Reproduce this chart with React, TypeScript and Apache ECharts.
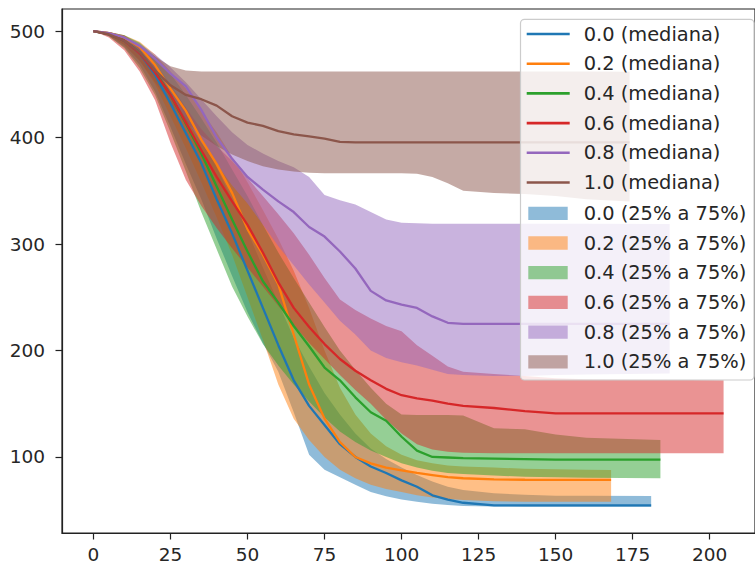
import React, { useEffect, useRef } from 'react';
import * as echarts from 'echarts';

// shared x grid (steps), plus each group's own last step
const xGrid = [0, 5, 10, 15, 20, 25, 30, 35, 40, 45, 50, 55, 60, 65, 70, 75, 80, 85, 90, 95, 100, 105, 110, 115, 120, 130, 140, 150, 160];
const groups = ['0.0', '0.2', '0.4', '0.6', '0.8', '1.0'];
const xEnd = [181, 168, 184, 204.5, 187, 174];
const colors = ['#1f77b4', '#ff7f0e', '#2ca02c', '#d62728', '#9467bd', '#8c564b'];
const bandColors = ['rgba(31,119,180,0.5)', 'rgba(255,127,14,0.5)', 'rgba(44,160,44,0.5)', 'rgba(214,39,40,0.5)', 'rgba(148,103,189,0.5)', 'rgba(140,86,75,0.5)'];

// medians
const med00 = [500, 497, 491, 479, 459, 432, 404, 376, 342, 310, 275, 240, 205, 172, 148, 130, 112, 100, 91, 85, 78, 72, 64, 60, 57, 54.5, 54.5, 54.5, 54.5, 54.5];
const med02 = [500, 498, 494, 485, 468, 446, 425, 398, 375, 348, 314, 290, 262, 215, 168, 136, 114, 100, 94, 90, 87.5, 85, 83, 81, 80, 79, 78.6, 78.4, 78.4, 78.4];
const med04 = [500, 497, 491, 480, 462, 440, 413, 385, 354, 323, 293, 265, 245, 223, 204, 184, 172, 156, 142, 134, 119, 106, 100, 99.5, 99, 98.5, 98, 97.5, 97.5, 97.5];
const med06 = [500, 497, 491, 479, 461, 440, 414, 388, 363, 340, 318, 292, 264, 240, 222, 206, 192, 181, 172, 164, 158, 155, 153, 150, 148, 146, 143, 141, 141, 141];
const med08 = [500, 498, 494, 486, 474, 460, 448, 426, 400, 380, 363, 351, 340, 330, 316, 307, 293, 277, 256, 247, 243, 240, 232, 226, 225, 225, 225, 225, 225, 225];
const med10 = [500, 497, 491, 480, 463, 449, 440, 436, 430, 420, 414, 411, 406, 403, 401, 399, 396, 395.5, 395.5, 395.5, 395.5, 395.5, 395.5, 395.5, 395.5, 395.5, 395.5, 395.5, 395.5, 395.5];

// 25% quantiles
const q25_00 = [500, 495, 485, 468, 443, 410, 375, 342, 305, 270, 236, 207, 180, 142, 102, 88, 81, 74, 67, 63, 60, 58, 56, 55, 54, 53.5, 53.3, 53.3, 53.3, 53.3];
const q25_02 = [500, 496, 487, 472, 450, 420, 390, 358, 325, 290, 250, 210, 168, 136, 116, 100, 88, 80, 74, 70, 67, 64, 62, 60.5, 59.5, 58.5, 58, 58, 58, 58];
const q25_04 = [500, 495, 484, 465, 440, 405, 368, 330, 295, 260, 232, 206, 186, 168, 152, 137, 124, 114, 106, 100, 94, 90, 87, 85, 84, 82.5, 81.5, 81, 80.5, 80];
const q25_06 = [500, 494, 482, 462, 435, 395, 360, 336, 315, 296, 278, 260, 242, 224, 207, 192, 177, 163, 150, 135, 122, 112, 107, 105, 104, 103.5, 103.5, 103.5, 103.5, 103.5];
const q25_08 = [500, 497, 490, 478, 460, 440, 418, 395, 375, 355, 338, 318, 298, 280, 262, 245, 228, 215, 200, 193, 189, 186, 182, 178, 177, 176, 176, 177, 177.5, 178.5];
const q25_10 = [500, 496, 487, 472, 452, 432, 415, 402, 392, 384, 378, 373, 370, 368, 367, 366.5, 366.5, 366.5, 366.5, 366.5, 366.5, 366, 363, 357, 350, 348, 347, 345, 342, 340];

// 75% quantiles
const q75_00 = [500, 499, 495, 486, 470, 450, 428, 400, 372, 342, 312, 278, 245, 212, 185, 160, 140, 122, 108, 98, 90, 83, 77, 72, 69, 66, 64.5, 63.5, 63.5, 63.4];
const q75_02 = [500, 499, 496, 490, 478, 462, 446, 425, 405, 382, 358, 332, 305, 275, 240, 200, 165, 140, 122, 110, 102, 97, 94, 92, 91, 90, 89, 88.5, 88, 87.8];
const q75_04 = [500, 499, 496, 489, 476, 460, 440, 418, 395, 370, 345, 318, 292, 268, 245, 222, 200, 182, 165, 150, 140, 139.5, 139.5, 139.5, 139, 127, 126, 121, 118, 116];
const q75_06 = [500, 499, 494, 484, 468, 448, 428, 408, 392, 378, 362, 345, 328, 310, 290, 268, 248, 238, 230, 223, 218, 205, 195, 185, 180, 178, 176, 174, 173, 172];
const q75_08 = [500, 499, 495, 488, 478, 466, 452, 436, 420, 405, 393, 385, 378, 372, 363, 346, 341, 337, 330, 323, 320, 319.5, 319, 319, 319, 319, 319, 319, 319, 318.8];
const q75_10 = [500, 499, 496, 486, 476, 467, 463, 462, 462, 462, 462, 462, 462, 462, 462, 462, 462, 462, 462, 462, 462, 462, 462, 462, 462, 462, 462, 462, 462, 461.8];

const medians = [med00, med02, med04, med06, med08, med10];
const lows = [q25_00, q25_02, q25_04, q25_06, q25_08, q25_10];
const highs = [q75_00, q75_02, q75_04, q75_06, q75_08, q75_10];

const xTicks = [0, 25, 50, 75, 100, 125, 150, 175, 200];
const yTicks = [100, 200, 300, 400, 500];

const FONT = 'DejaVu Sans';
const TEXT = '#262626';

export default function App() {
  const ref = useRef<HTMLDivElement>(null);

  useEffect(() => {
    document.body.style.margin = '0';
    if (!ref.current) return;
    const chart = echarts.init(ref.current, undefined, { renderer: 'svg' });

    const xsFor = (i: number) => xGrid.concat([xEnd[i]]);

    // one custom series per band: the whole 25%-75% region as one polygon
    const bandSeries = groups.map((g, i) => {
      const rows = xsFor(i).map((x, k) => [x, lows[i][k], highs[i][k]]);
      return {
        type: 'custom',
        name: `${g} (25% a 75%)`,
        data: rows,
        encode: { x: 0, y: [1, 2] },
        itemStyle: { color: bandColors[i] },
        z: 2,
        silent: true,
        renderItem: (params: any, api: any) => {
          if (params.dataIndex !== 0) return null;
          const upper = rows.map((r) => api.coord([r[0], r[2]]));
          const lower = rows.map((r) => api.coord([r[0], r[1]])).reverse();
          return {
            type: 'polygon',
            shape: { points: upper.concat(lower) },
            style: { fill: bandColors[i], stroke: null },
          };
        },
      };
    });

    const lineSeries = groups.map((g, i) => {
      const xs = xsFor(i);
      return {
        type: 'line',
        name: `${g} (mediana)`,
        data: xs.map((x, k) => [x, medians[i][k]]),
        symbol: 'none',
        lineStyle: { color: colors[i], width: 2.3 },
        itemStyle: { color: colors[i] },
        z: 3,
      };
    });

    const legendText = { fontFamily: FONT, fontSize: 19.4, color: TEXT, lineHeight: 20 };

    chart.setOption({
      animation: false,
      grid: { left: 62, top: 9, width: 702, height: 524, show: true, borderColor: '#222', borderWidth: 1.2, containLabel: false },
      xAxis: {
        type: 'value',
        min: -10.2,
        max: 214.7,
        splitLine: { show: false },
        axisLine: { show: true, onZero: false, lineStyle: { color: '#222', width: 1.2 } },
        axisTick: { show: true, customValues: xTicks, length: 6.5, lineStyle: { color: '#222', width: 1.2 } },
        axisLabel: { customValues: xTicks, fontFamily: FONT, fontSize: 18.5, color: TEXT, margin: 11.5 },
      },
      yAxis: {
        type: 'value',
        min: 28.6,
        max: 520.7,
        splitLine: { show: false },
        axisLine: { show: true, onZero: false, lineStyle: { color: '#222', width: 1.2 } },
        axisTick: { show: true, customValues: yTicks, length: 6.5, lineStyle: { color: '#222', width: 1.2 } },
        axisLabel: { customValues: yTicks, fontFamily: FONT, fontSize: 18.5, color: TEXT, margin: 17 },
      },
      graphic: [
        {
          type: 'rect',
          z: 10,
          shape: { x: 520.5, y: 19.3, width: 233.5, height: 360.7, r: 4 },
          style: { fill: 'rgba(255,255,255,0.8)', stroke: '#cccccc', lineWidth: 1.2 },
          silent: true,
        },
      ],
      legend: [
        {
          orient: 'vertical',
          left: 526.7,
          top: 24,
          padding: 0,
          itemWidth: 43,
          itemHeight: 2.6,
          itemGap: 9.7,
          selectedMode: false,
          z: 12,
          textStyle: { ...legendText, padding: [0, 0, 0, 9] },
          data: groups.map((g, i) => ({ name: `${g} (mediana)`, icon: 'rect', itemStyle: { color: colors[i], borderWidth: 0 } })),
        },
        {
          orient: 'vertical',
          left: 528.3,
          top: 203.3,
          padding: 0,
          itemWidth: 39.4,
          itemHeight: 13.3,
          itemGap: 9.7,
          selectedMode: false,
          z: 12,
          textStyle: { ...legendText, padding: [0, 0, 0, 11] },
          data: groups.map((g, i) => ({ name: `${g} (25% a 75%)`, icon: 'rect', itemStyle: { color: bandColors[i], borderWidth: 0 } })),
        },
      ],
      series: [...bandSeries, ...lineSeries],
    });

    return () => chart.dispose();
  }, []);

  return <div ref={ref} style={{ width: 755, height: 567 }} />;
}
